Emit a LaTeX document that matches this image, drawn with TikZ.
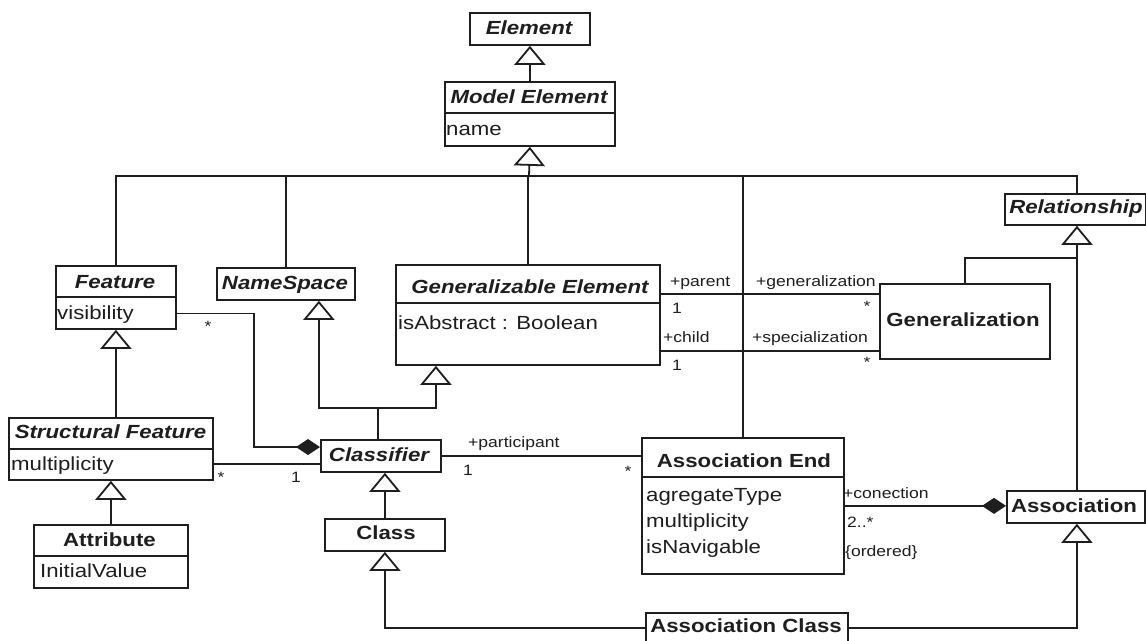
\documentclass[tikz,border=0pt]{standalone}
\usepackage{fontspec}
\setmainfont{Liberation Sans}[FakeStretch=1.17]
\usetikzlibrary{arrows.meta}
\definecolor{ink}{HTML}{1E1E1E}
\newcommand\titlefnt{\fontsize{19}{22}\selectfont\bfseries}
\newcommand\abstitlefnt{\fontsize{19}{22}\selectfont\bfseries\itshape}
\newcommand\attrfnt{\fontsize{19}{22}\selectfont}
\newcommand\lblfnt{\fontsize{15}{18}\selectfont}
\begin{document}
\begin{tikzpicture}[x=1pt,y=-1pt,
  line/.style={draw=ink, line width=1.8pt},
  cls/.style={draw=ink, line width=1.8pt, fill=white, rectangle, inner sep=0pt, anchor=north west},
  ctitle/.style={font=\titlefnt, text=ink, inner sep=0pt, anchor=base},
  atitle/.style={font=\abstitlefnt, text=ink, inner sep=0pt, anchor=base},
  attr/.style={font=\attrfnt, text=ink, inner sep=0pt, anchor=base west},
  lbl/.style={font=\lblfnt, text=ink, inner sep=0pt, anchor=base west},
  lblc/.style={font=\lblfnt, text=ink, inner sep=0pt, anchor=base},
  inherit/.style={line, -{Triangle[open, length=19pt, width=31pt]}},
  compose/.style={line, -{Diamond[length=24pt, width=16pt]}},
  divider/.style={draw=ink, line width=1.8pt}
]
\useasboundingbox (0,0) rectangle (1146,640);
\clip (0,0) rectangle (1146,640);
\fill[white] (0,0) rectangle (1146,640);

% ---- class frames ----
\node[cls, minimum width=120pt, minimum height=32pt]  (element)    at (469,12)  {};
\node[cls, minimum width=170pt, minimum height=64pt]  (me)         at (444,81)  {};
\node[cls, minimum width=120pt, minimum height=63pt]  (feature)    at (55,265)  {};
\node[cls, minimum width=138pt, minimum height=32pt]  (ns)         at (216,267) {};
\node[cls, minimum width=264pt, minimum height=100pt] (ge)         at (395,264) {};
\node[cls, minimum width=141pt, minimum height=31pt]  (rel)        at (1004,193) {};
\node[cls, minimum width=170pt, minimum height=75pt]  (gen)        at (879,283) {};
\node[cls, minimum width=204pt, minimum height=62pt]  (sf)         at (8,417)   {};
\node[cls, minimum width=154pt, minimum height=63pt]  (attrb)      at (33,524)  {};
\node[cls, minimum width=120pt, minimum height=32pt]  (classifier) at (320,439) {};
\node[cls, minimum width=120pt, minimum height=32pt]  (class)      at (324,518) {};
\node[cls, minimum width=202pt, minimum height=136pt] (ae)         at (641,437) {};
\node[cls, minimum width=138pt, minimum height=32pt]  (assoc)      at (1006,490) {};
\node[cls, minimum width=202pt, minimum height=30pt]  (ac)         at (645,612) {};

% ---- compartment dividers ----
\draw[divider] (me.west |- 0,113) -- (me.east |- 0,113);
\draw[divider] (feature.west |- 0,297) -- (feature.east |- 0,297);
\draw[divider] (ge.west |- 0,303) -- (ge.east |- 0,303);
\draw[divider] (sf.west |- 0,449) -- (sf.east |- 0,449);
\draw[divider] (attrb.west |- 0,556) -- (attrb.east |- 0,556);
\draw[divider] (ae.west |- 0,477) -- (ae.east |- 0,477);

% ---- class names ----
\node[atitle] (elementT)    at (529,34) {Element};
\node[atitle] (meT)         at (529,103) {Model Element};
\node[atitle] (featureT)    at (115,288) {Feature};
\node[atitle] (nsT)         at (285,289) {NameSpace};
\node[atitle] (geT)         at (530,293) {Generalizable Element};
\node[atitle] (relT)        at (1076,213) {Relationship};
\node[ctitle] (genT)        at (963,326) {Generalization};
\node[atitle] (sfT)         at (110.5,438) {Structural Feature};
\node[ctitle] (attrbT)      at (109.5,546) {Attribute};
\node[atitle] (classifierT) at (379,461) {Classifier};
\node[ctitle] (classT)      at (386,539) {Class};
\node[ctitle] (aeT)         at (744,467) {Association End};
\node[ctitle] (assocT)      at (1074,512) {Association};
\node[ctitle] (acT)         at (746,632) {Association Class};

% ---- attributes ----
\node[attr] (meA)   at (446,135) {name};
\node[attr] (featA) at (57,319) {visibility};
\node[attr] (geA)   at (398,329) {isAbstract : Boolean};
\node[attr] (sfA)   at (11,470) {multiplicity};
\node[attr] (atA)   at (40,577) {InitialValue};
\node[attr] (aeA1)  at (646,501) {agregateType};
\node[attr] (aeA2)  at (646,527) {multiplicity};
\node[attr] (aeA3)  at (646,553) {isNavigable};

% ---- inheritance tree below Model Element ----
\coordinate (bus) at (529,176);
\coordinate (relx) at (1077,0);
\draw[inherit] (me.north) -- (element.south);
\draw[inherit] (bus) -- (me.south);
\draw[line] (feature.north) |- (bus);
\draw[line] (bus) -| (rel.north -| relx);
\draw[line] (ns.north) -- (ns.north |- bus);
\draw[line] (ge.north) -- (ge.north |- bus);
\draw[line] (ae.north) -- (ae.north |- bus);

% ---- Feature hierarchy ----
\draw[inherit] (sf.north -| feature.south) -- (feature.south);
\draw[inherit] (attrb.north) -- (attrb.north |- sf.south);

% ---- Classifier generalizes NameSpace and Generalizable Element ----
\coordinate (cj) at (378,408);
\draw[line] (classifier.north -| cj) -- (cj);
\draw[inherit] (cj) -| ([xshift=33pt]ns.south);
\draw[inherit] (cj) -| ([xshift=-92pt]ge.south);
\draw[inherit] (class.north) -- (class.north |- classifier.south);

% ---- Feature / Structural Feature to Classifier ----
\coordinate (fbend) at (254,447);
\draw[compose] ([yshift=-16pt]feature.east) -| (fbend) -- (fbend -| classifier.west);
\draw[line] ([yshift=-15pt]sf.east) -- ([yshift=-15pt]sf.east -| classifier.west);

% ---- Classifier to Association End ----
\draw[line] (classifier.east) -- (classifier.east -| ae.west);

% ---- Association End to Association ----
\draw[compose] (ae.east) -- (ae.east -| assoc.west);

% ---- Generalizable Element to Generalization ----
\draw[line] ([yshift=21pt]ge.east) -- ([yshift=21pt]ge.east -| gen.west);
\draw[line] ([yshift=-36pt]ge.east) -- ([yshift=-36pt]ge.east -| gen.west);

% ---- Relationship subclasses ----
\coordinate (gj) at (1077,258);
\draw[inherit] (assoc.north -| relx) -- (rel.south -| relx);
\draw[line] (gen.north) |- (gj);

% ---- Association Class ----
\draw[inherit] (ac.east) -| ([xshift=1pt]assoc.south);
\draw[inherit] (ac.west) -| (class.south);

% ---- role names and multiplicities ----
\node[lbl]  (lParent)  at (670,286) {+parent};
\node[lblc] (mParent)  at (677,313) {1};
\node[lbl]  (lChild)   at (663,342) {+child};
\node[lblc] (mChild)   at (677,370) {1};
\node[lbl]  (lGen)     at (756,286) {+generalization};
\node[lblc] (mGen)     at (867,311.5) {*};
\node[lbl]  (lSpec)    at (752,342) {+specialization};
\node[lblc] (mSpec)    at (867,367.5) {*};
\node[lblc] (mFeat)    at (208,331.5) {*};
\node[lblc] (mSf)      at (221,482) {*};
\node[lblc] (mSfC)     at (296,482) {1};
\node[lbl]  (lPart)    at (468,447) {+participant};
\node[lblc] (mPart)    at (468,475) {1};
\node[lblc] (mAe)      at (628,476.5) {*};
\node[lbl]  (lCon)     at (843,498) {+conection};
\node[lbl]  (mCon)     at (847,527) {2..*};
\node[lbl]  (cOrd)     at (845,556) {\{ordered\}};
\end{tikzpicture}
\end{document}
